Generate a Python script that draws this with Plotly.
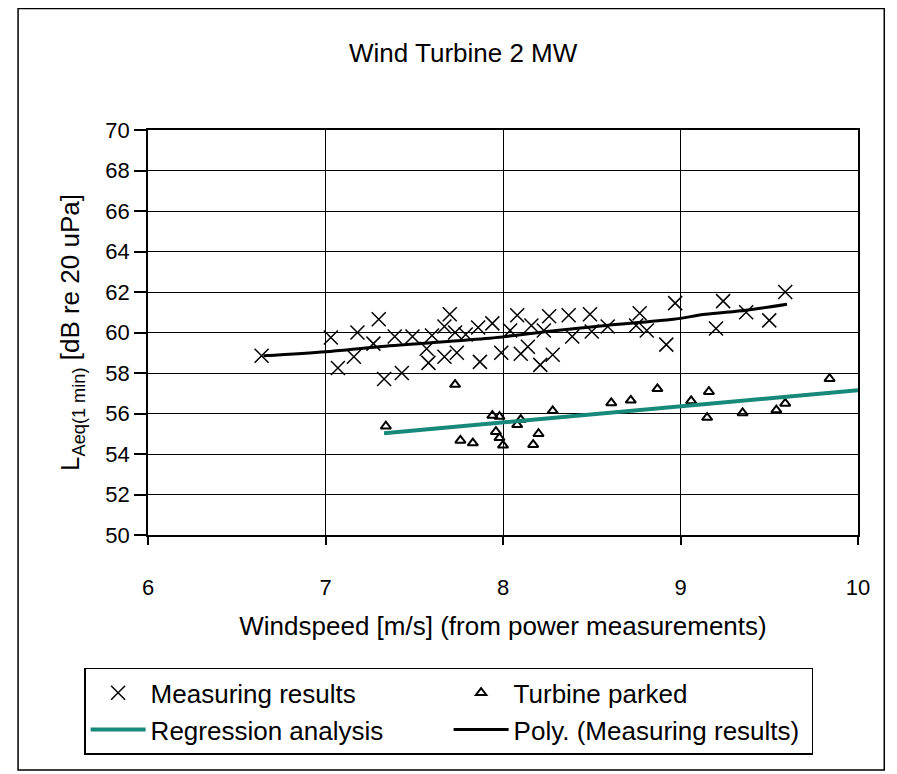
import plotly.graph_objects as go

# Measuring results (windspeed m/s, LAeq dB)
meas_x = [6.64, 7.03, 7.07, 7.16, 7.18, 7.27, 7.30, 7.33, 7.39, 7.43, 7.49, 7.57,
          7.58, 7.60, 7.67, 7.67, 7.70, 7.73, 7.74, 7.79, 7.86, 7.87, 7.94, 7.99,
          8.04, 8.08, 8.10, 8.14, 8.16, 8.21, 8.23, 8.26, 8.28, 8.37, 8.39, 8.49,
          8.50, 8.59, 8.75, 8.77, 8.81, 8.92, 8.97, 9.20, 9.24, 9.37, 9.50, 9.59]
meas_y = [58.85, 59.75, 58.25, 58.8, 60.0, 59.45, 60.65, 57.7, 59.8, 58.0, 59.8, 59.2,
          58.5, 59.85, 60.3, 58.8, 60.9, 60.0, 59.0, 59.9, 60.25, 58.55, 60.45, 59.0,
          60.1, 60.85, 58.95, 59.3, 60.35, 58.4, 60.1, 60.8, 58.9, 60.85, 59.8, 60.9,
          60.05, 60.3, 60.35, 60.95, 60.1, 59.4, 61.45, 60.2, 61.55, 61.0, 60.6, 62.0]

# Turbine parked
park_x = [7.34, 7.73, 7.76, 7.83, 7.94, 7.96, 7.98, 7.98, 8.00, 8.08, 8.10, 8.17,
          8.20, 8.28, 8.61, 8.72, 8.87, 9.06, 9.15, 9.16, 9.35, 9.54, 9.59, 9.84]
park_y = [55.37, 57.43, 54.67, 54.54, 55.9, 55.1, 55.85, 54.8, 54.43, 55.44, 55.7, 54.46,
          55.0, 56.13, 56.52, 56.65, 57.22, 56.62, 55.8, 57.08, 56.03, 56.17, 56.5, 57.72]

# Regression analysis line (turbine parked)
reg_x = [7.33, 10.0]
reg_y = [55.03, 57.15]

# Poly. trendline (measuring results)
poly_x = [6.65, 7.0, 7.3, 7.9, 8.3, 8.58, 8.96, 9.14, 9.37, 9.6]
poly_y = [58.85, 59.05, 59.3, 59.7, 60.1, 60.35, 60.65, 60.9, 61.1, 61.4]

FONT = "Liberation Sans, Arial, sans-serif"
TEAL = "#17897a"

fig = go.Figure()

fig.add_trace(go.Scatter(
    x=meas_x, y=meas_y, mode="markers", name="Measuring results",
    marker=dict(symbol="x-thin", size=14, line=dict(color="black", width=1.5)),
))
fig.add_trace(go.Scatter(
    x=park_x, y=park_y, mode="markers", name="Turbine parked",
    marker=dict(symbol="triangle-up-open", size=9, color="black",
                line=dict(color="black", width=2)),
))
fig.add_trace(go.Scatter(
    x=reg_x, y=reg_y, mode="lines", name="Regression analysis",
    line=dict(color=TEAL, width=4),
))
fig.add_trace(go.Scatter(
    x=poly_x, y=poly_y, mode="lines", name="Poly. (Measuring results)",
    line=dict(color="black", width=3, shape="spline", smoothing=0.8),
))

fig.update_xaxes(
    range=[6, 10], dtick=1, showgrid=True, gridcolor="black", gridwidth=1,
    showline=True, linecolor="black", linewidth=1.5, mirror=True,
    ticks="outside", ticklen=8, tickcolor="black", tickwidth=1.5,
    ticklabelstandoff=24, tickfont=dict(size=22, color="black"),
    zeroline=False,
    title=dict(text="Windspeed [m/s] (from power measurements)",
               font=dict(size=26, color="black"), standoff=18),
)
fig.update_yaxes(
    range=[50, 70], dtick=2, showgrid=True, gridcolor="black", gridwidth=1,
    showline=True, linecolor="black", linewidth=1.5, mirror=True,
    ticks="outside", ticklen=12, tickcolor="black", tickwidth=1.5,
    tickfont=dict(size=22, color="black"), zeroline=False,
    title=dict(text="L<sub>Aeq(1 min)</sub> [dB re 20 uPa]",
               font=dict(size=26, color="black"), standoff=18),
)

# page body adds an 8px margin, so the figure is drawn 8px smaller
fig.update_layout(
    width=889, height=766,
    margin=dict(l=140, r=39, t=122, b=239),
    paper_bgcolor="white", plot_bgcolor="white",
    font=dict(family=FONT, color="black"),
    title=dict(text="Wind Turbine 2 MW", x=0.512, xanchor="center",
               y=0.942, yanchor="middle", font=dict(size=26, color="black")),
    legend=dict(
        orientation="h", x=-0.09, y=-0.328, xanchor="left", yanchor="top",
        entrywidth=293, entrywidthmode="pixels", itemwidth=55,
        bgcolor="white", bordercolor="black", borderwidth=1.5,
        font=dict(size=26, color="black"),
    ),
    shapes=[dict(type="rect", xref="paper", yref="paper",
                 x0=-0.183, x1=1.037, y0=-0.58, y1=1.30,
                 line=dict(color="black", width=1.5))],
)

fig.write_html("out.html")
